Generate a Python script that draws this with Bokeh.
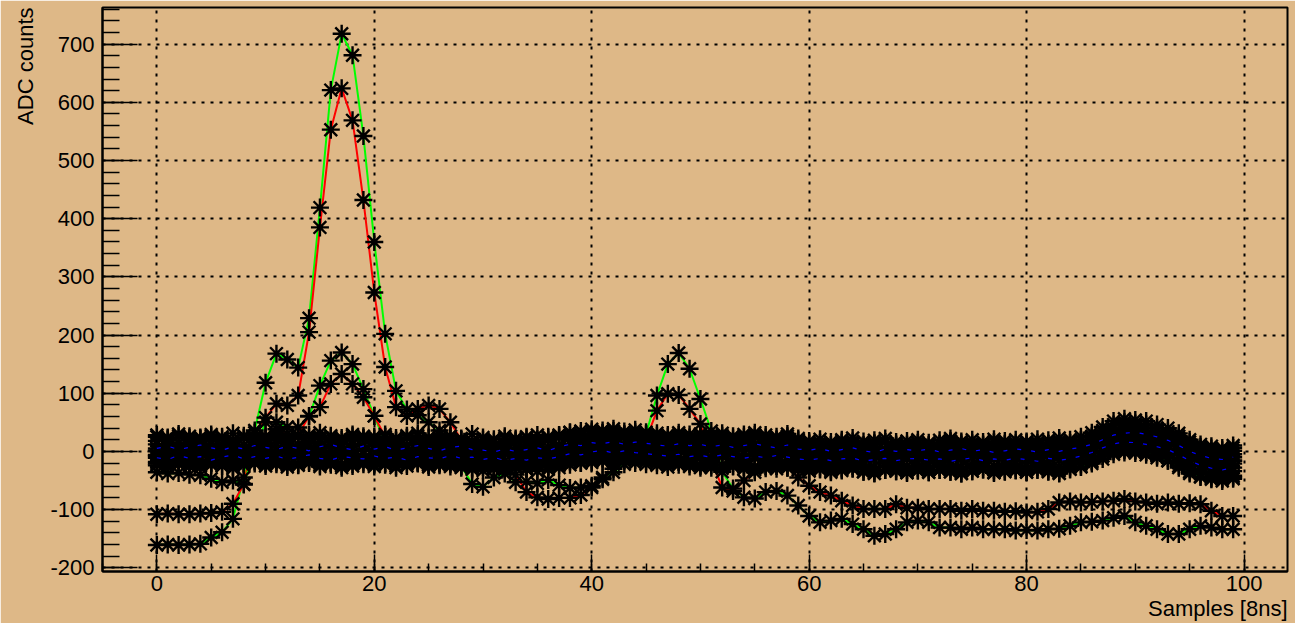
import math
from bokeh.plotting import figure
from bokeh.models import FixedTicker, Title
from bokeh.embed import file_html
from bokeh.resources import INLINE

samples = list(range(100))

x_ticks = [0, 20, 40, 60, 80, 100]
y_ticks = [-200, -100, 0, 100, 200, 300, 400, 500, 600, 700]

# signal traces (with fitted lines)
big_green = [
    -161, -160, -161, -160, -159, -148, -139, -116, -45, 36,
    118, 168, 158, 144, 229, 419, 621, 718, 681, 542,
    360, 202, 104, 72, 62, 50, 36, 12, -25, -56,
    -61, -45, -38, -53, -52, -55, -49, -58, -63, -62,
    -59, -45, -36, -22, -5, 30, 96, 150, 169, 142,
    90, 35, -35, -64, -79, -81, -70, -68, -76, -93,
    -111, -122, -119, -116, -125, -134, -145, -142, -134, -122,
    -119, -122, -131, -131, -134, -131, -134, -134, -134, -136,
    -135, -136, -134, -133, -128, -122, -121, -119, -114, -111,
    -122, -128, -134, -142, -142, -134, -128, -131, -134, -134,
]
big_red = [
    -108, -107, -108, -108, -107, -106, -104, -90, -56, 32,
    58, 82, 79, 96, 205, 385, 553, 624, 569, 432,
    273, 145, 76, 61, 73, 79, 73, 50, 20, -5,
    -20, -25, -30, -40, -70, -79, -82, -80, -80, -75,
    -62, -48, -30, -15, -5, 20, 70, 99, 97, 73,
    47, -15, -62, -68, -50, -36, -25, -20, -27, -45,
    -59, -70, -76, -85, -93, -99, -99, -99, -91, -97,
    -97, -99, -99, -99, -102, -99, -102, -102, -104, -103,
    -105, -104, -99, -88, -86, -88, -87, -86, -85, -82,
    -86, -88, -90, -88, -90, -89, -91, -102, -111, -111,
]
small_green = [
    -36, -38, -37, -40, -41, -47, -53, -50, -57, 5,
    50, 50, 42, 41, 60, 113, 156, 170, 150, 107,
    61, 15, -8, -15, -20, -24, -21, -26, -28, -31,
    -33, -29, -31, -27, -30, -34, -31, -28, -23, -20,
    -17, -14, -12, -10, -8, -10, -15, -20, -18, -22,
    -25, -28, -24, -26, -30, -27, -29, -25, -28, -31,
    -33, -30, -34, -31, -29, -35, -37, -32, -34, -36,
    -33, -36, -32, -35, -38, -34, -31, -36, -34, -32,
    -35, -31, -34, -37, -30, -26, -18, -8, 0, 2,
    1, -2, -8, -16, -28, -38, -44, -46, -48, -45,
]
small_red = [
    -8, -12, -5, -10, -14, -6, -9, -3, 0, 5,
    20, 38, 30, 28, 61, 76, 116, 133, 116, 93,
    61, 25, 5, -5, 0, 3, -2, 4, 1, -3,
    0, -4, 2, -1, -5, 1, -3, 2, 6, 9,
    11, 8, 12, 9, 13, 10, 7, 4, 8, 5,
    3, 6, 1, 4, 0, 5, 2, -1, 3, -2,
    -4, 0, -5, -2, 1, -3, -6, -1, -4, -2,
    0, -3, 1, -4, -1, 2, -2, 0, -5, -1,
    -3, 1, -2, 2, 0, 4, 9, 16, 22, 25,
    23, 20, 15, 10, 2, -7, -13, -18, -20, -16,
]

# pedestal-only channels
noise_1 = [
    18, 22, 15, 20, 24, 17, 12, 19, 23, 16,
    14, 20, 18, 11, 15, 21, 17, 13, 19, 22,
    16, 12, 18, 23, 19, 14, 17, 21, 15, 11,
    13, 9, 14, 17, 12, 16, 19, 24, 27, 25,
    29, 31, 26, 28, 30, 25, 22, 20, 24, 19,
    21, 17, 23, 18, 20, 24, 16, 19, 22, 14,
    12, 15, 11, 17, 13, 9, 14, 16, 12, 10,
    15, 11, 13, 18, 14, 10, 12, 16, 13, 11,
    14, 10, 13, 17, 15, 19, 24, 33, 40, 45,
    42, 40, 35, 30, 22, 12, 4, 0, -3, 1,
]
noise_2 = [
    -18, -22, -15, -20, -24, -19, -14, -17, -21, -16,
    -20, -15, -18, -23, -17, -13, -19, -22, -16, -14,
    -17, -21, -15, -12, -18, -22, -19, -14, -16, -20,
    -23, -19, -25, -21, -18, -22, -16, -12, -8, -10,
    -5, -3, -7, -2, -6, -9, -12, -14, -10, -13,
    -11, -15, -9, -13, -17, -12, -14, -18, -16, -20,
    -22, -19, -24, -21, -18, -23, -26, -20, -22, -25,
    -21, -24, -19, -23, -26, -22, -20, -25, -23, -21,
    -24, -20, -22, -26, -19, -15, -10, -2, 5, 10,
    8, 6, 1, -4, -12, -22, -31, -35, -38, -34,
]
noise_3 = [
    5, 9, 3, 7, 11, 6, 2, 8, 4, 10,
    7, 3, 9, 5, 1, 8, 12, 6, 3, 9,
    4, 8, 2, 6, 10, 5, 1, 7, 9, 3,
    2, -1, 4, 0, 3, 6, 1, 8, 12, 10,
    15, 13, 17, 12, 16, 14, 11, 9, 13, 10,
    12, 8, 11, 7, 10, 13, 9, 6, 11, 4,
    2, 5, 0, 3, 6, 1, -2, 4, 0, 3,
    1, 4, -1, 2, 5, 0, 3, -2, 1, 4,
    2, -1, 3, 0, 4, 7, 12, 20, 28, 31,
    33, 29, 25, 19, 10, 0, -7, -12, -14, -10,
]
noise_4 = [
    -6, -2, -9, -4, -1, -7, -10, -3, -5, -8,
    -4, -9, -2, -6, -11, -3, -7, -1, -8, -5,
    -9, -3, -6, -10, -2, -7, -5, -1, -8, -4,
    -7, -11, -4, -9, -6, -2, -8, -3, 2, 0,
    4, 6, 2, 7, 3, 5, 1, -2, 3, 0,
    -1, 3, -3, 1, -4, 2, -2, -5, 0, -6,
    -8, -4, -9, -6, -3, -10, -7, -5, -11, -8,
    -6, -9, -4, -8, -11, -5, -7, -10, -6, -9,
    -7, -10, -5, -8, -4, 0, 6, 14, 20, 24,
    22, 21, 15, 9, 0, -10, -17, -22, -25, -21,
]
noise_5 = [
    12, 8, 14, 10, 6, 13, 9, 15, 11, 7,
    10, 14, 6, 12, 9, 16, 11, 8, 13, 10,
    9, 13, 7, 11, 15, 8, 12, 10, 6, 14,
    8, 5, 10, 6, 9, 12, 7, 11, 18, 16,
    20, 22, 19, 24, 21, 18, 16, 13, 17, 15,
    14, 18, 12, 16, 13, 11, 15, 12, 9, 7,
    6, 9, 4, 8, 10, 5, 7, 3, 8, 6,
    9, 5, 7, 11, 6, 8, 4, 9, 7, 5,
    8, 4, 7, 10, 9, 13, 18, 26, 34, 38,
    36, 35, 29, 24, 14, 4, -2, -6, -9, -5,
]
noise_6 = [
    -11, -14, -7, -12, -9, -15, -10, -6, -13, -9,
    -12, -8, -14, -10, -6, -12, -15, -9, -11, -13,
    -8, -12, -10, -15, -9, -11, -13, -7, -12, -10,
    -14, -10, -16, -12, -15, -11, -13, -9, -4, -6,
    -1, 2, -3, 1, -2, -4, -6, -8, -5, -9,
    -7, -10, -6, -9, -12, -8, -11, -7, -10, -13,
    -15, -12, -16, -13, -11, -17, -14, -12, -16, -13,
    -12, -15, -13, -17, -14, -11, -16, -13, -15, -12,
    -14, -17, -12, -15, -13, -8, -2, 6, 13, 16,
    15, 12, 8, 3, -6, -16, -24, -29, -32, -28,
]
noise_7 = [
    25, 20, 27, 23, 21, 26, 22, 18, 24, 21,
    23, 26, 21, 25, 28, 22, 24, 20, 26, 23,
    22, 25, 19, 24, 27, 21, 23, 26, 20, 18,
    20, 17, 22, 19, 23, 21, 25, 28, 32, 30,
    34, 32, 35, 30, 33, 29, 27, 25, 28, 24,
    26, 23, 27, 22, 25, 28, 24, 21, 26, 19,
    12, 15, 10, 14, 17, 11, 13, 16, 10, 12,
    14, 9, 13, 16, 11, 14, 10, 15, 12, 14,
    11, 15, 13, 17, 14, 19, 26, 36, 46, 50,
    48, 46, 40, 34, 26, 16, 8, 5, 2, 6,
]
noise_8 = [
    -24, -27, -22, -26, -28, -23, -25, -29, -24, -21,
    -25, -22, -27, -24, -20, -26, -23, -28, -25, -22,
    -26, -23, -28, -25, -21, -27, -24, -22, -26, -29,
    -27, -30, -26, -28, -31, -25, -28, -24, -18, -20,
    -14, -12, -16, -11, -15, -17, -19, -22, -18, -21,
    -23, -19, -24, -20, -22, -26, -21, -25, -23, -27,
    -29, -26, -31, -28, -25, -30, -33, -27, -29, -32,
    -28, -31, -27, -30, -33, -29, -26, -32, -30, -28,
    -31, -27, -30, -33, -26, -22, -16, -8, 0, 3,
    2, -1, -6, -11, -20, -30, -38, -43, -46, -42,
]
noise_9 = [
    28, 24, 30, 26, 22, 29, 25, 31, 27, 23,
    26, 30, 24, 28, 25, 32, 27, 23, 29, 26,
    25, 29, 23, 27, 31, 24, 28, 26, 22, 30,
    24, 21, 26, 22, 25, 28, 23, 27, 33, 35,
    38, 36, 39, 34, 37, 33, 31, 28, 32, 29,
    30, 27, 31, 26, 29, 32, 28, 25, 30, 22,
    18, 21, 16, 20, 23, 17, 19, 22, 16, 18,
    20, 15, 19, 22, 17, 20, 16, 21, 18, 20,
    17, 21, 19, 23, 20, 25, 32, 42, 52, 56,
    54, 52, 46, 40, 31, 20, 12, 9, 6, 10,
]
noise_10 = [
    1, -3, 4, -1, 2, -4, 0, 3, -2, 1,
    -1, 2, -3, 0, 4, -2, 1, -4, 2, 0,
    3, -1, 1, -3, 0, 2, -2, 4, -1, 1,
    -2, -4, 0, -3, 1, -1, -3, 2, 5, 4,
    8, 10, 7, 9, 6, 8, 5, 3, 6, 4,
    5, 2, 6, 3, 1, 4, 0, 2, 3, -1,
    -3, 0, -4, -1, -5, -2, -4, 0, -3, -5,
    -2, -5, -1, -4, -6, -2, -3, -5, -1, -4,
    -3, -6, -2, -4, -1, 3, 9, 17, 24, 27,
    25, 23, 18, 12, 4, -6, -13, -17, -20, -16,
]
noise_11 = [
    -21, -24, -19, -23, -25, -20, -22, -26, -21, -18,
    -22, -19, -24, -21, -17, -23, -20, -25, -22, -19,
    -23, -20, -25, -22, -18, -24, -21, -19, -23, -26,
    -24, -27, -23, -25, -28, -22, -25, -21, -16, -18,
    -19, -17, -21, -16, -20, -22, -24, -27, -23, -26,
    -28, -24, -29, -25, -27, -31, -26, -30, -28, -32,
    -34, -31, -36, -33, -30, -35, -38, -32, -34, -37,
    -33, -36, -32, -35, -38, -34, -31, -37, -35, -33,
    -36, -32, -35, -38, -31, -27, -21, -13, -5, -2,
    -3, -6, -11, -16, -25, -35, -43, -48, -51, -47,
]

noise_traces = [noise_1, noise_2, noise_3, noise_4, noise_5, noise_6,
                noise_7, noise_8, noise_9, noise_10, noise_11]
signal_traces = [(big_green, "#00FF00"), (big_red, "#FF0000"),
                 (small_green, "#00FF00"), (small_red, "#FF0000")]
blue_traces = [noise_3, noise_6]

BG = "#DEB887"
FONT = "Liberation Sans"

p = figure(width=1295, height=623, x_range=(-5, 104), y_range=(-206.5, 763),
           output_backend="svg", toolbar_location=None,
           min_border_left=101, min_border_right=8, min_border_top=7,
           min_border_bottom=52)
p.background_fill_color = BG
p.border_fill_color = BG
p.outline_line_color = "black"
p.outline_line_width = 2

# colored fit lines under the markers
for tr, col in signal_traces:
    p.line(samples, tr, line_color=col, line_width=2)

for tr in noise_traces + [s for s, _ in signal_traces]:
    p.scatter(samples, tr, marker="asterisk", size=18, line_color="black",
              line_width=2.4)

for tr in blue_traces:
    p.line(samples, tr, line_color="#0000FF", line_width=1.2, line_dash="4 10")

p.xaxis.ticker = FixedTicker(ticks=x_ticks, minor_ticks=list(range(-5, 105, 5)))
p.yaxis.ticker = FixedTicker(ticks=y_ticks, minor_ticks=list(range(-200, 770, 20)))
p.xaxis.major_label_overrides = {t: str(t) for t in x_ticks}
p.yaxis.major_label_overrides = {t: str(t) for t in y_ticks}

for ax in p.axis:
    ax.axis_line_color = "black"
    ax.axis_line_width = 2
    ax.major_tick_line_color = "black"
    ax.minor_tick_line_color = "black"
    ax.major_tick_line_width = 1.5
    ax.minor_tick_line_width = 1.5
    ax.major_tick_out = 0
    ax.minor_tick_out = 0
    ax.major_label_text_font = FONT
    ax.major_label_text_font_size = "22px"
    ax.major_label_text_color = "black"
    ax.major_label_text_font_style = "normal"

p.yaxis.major_tick_in = 35
p.yaxis.minor_tick_in = 17
p.xaxis.major_tick_in = 17
p.xaxis.minor_tick_in = 8
p.yaxis.major_label_standoff = 8
p.xaxis.major_label_standoff = 4

for g in (p.xgrid, p.ygrid):
    g.grid_line_color = "black"
    g.grid_line_width = 2
    g.grid_line_dash = "3 6"

xt = Title(text="Samples [8ns]", align="right", text_font=FONT,
           text_font_size="22px", text_font_style="normal", text_color="black",
           standoff=0, offset=0)
p.add_layout(xt, "below")
yt = Title(text="ADC counts", align="right", text_font=FONT,
           text_font_size="22px", text_font_style="normal", text_color="black",
           standoff=20, offset=0)
p.add_layout(yt, "left")

open("out.html", "w").write(file_html(p, INLINE))
